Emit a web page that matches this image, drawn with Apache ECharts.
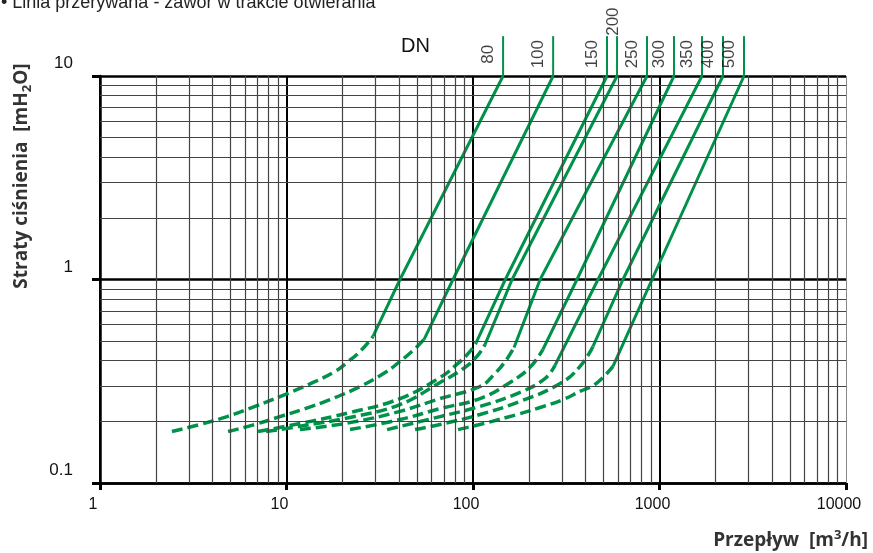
<!DOCTYPE html>
<html>
<head>
<meta charset="utf-8">
<script src="https://cdn.jsdelivr.net/npm/echarts@6/dist/echarts.min.js"></script>
<style>
  html, body { margin: 0; padding: 0; background: #fff; }
  #chart { width: 873px; height: 553px; }
</style>
</head>
<body>
<div id="chart"></div>
<script>
// tick labels
const xTickLabels = ['1', '10', '100', '1000', '10000'];
const yTickLabels = ['0.1', '1', '10'];
const xMinorLines = [2, 3, 4, 5, 6, 7, 8, 9, 20, 30, 40, 50, 60, 70, 80, 90,
  200, 300, 400, 500, 600, 700, 800, 900, 2000, 3000, 4000, 5000, 6000, 7000, 8000, 9000];
const yMinorLines = [0.2, 0.3, 0.4, 0.5, 0.6, 0.7, 0.8, 0.9, 2, 3, 4, 5, 6, 7, 8, 9];

// DN sizes
const dnNames = ['80', '100', '150', '200', '250', '300', '350', '400', '500'];

// dashed part: valve opening  [Q m3/h, loss mH2O]
const dn80Opening = [[2.43, 0.179], [3.44, 0.194], [4.80, 0.212], [6.78, 0.238], [9.23, 0.266], [13.9, 0.312], [18.2, 0.353], [21.1, 0.391], [24.8, 0.443], [29.1, 0.525]];
const dn100Opening = [[4.86, 0.179], [6.78, 0.194], [9.23, 0.212], [12.6, 0.232], [17.1, 0.257], [24.8, 0.298], [33.8, 0.349], [40.6, 0.396], [47.7, 0.448], [54.6, 0.507]];
const dn150Opening = [[7.04, 0.179], [11.8, 0.196], [21.9, 0.222], [40.6, 0.260], [66.6, 0.330], [83.1, 0.387], [96.4, 0.443], [104, 0.490]];
const dn200Opening = [[7.77, 0.179], [11.8, 0.190], [21.9, 0.210], [40.6, 0.243], [66.6, 0.312], [87.3, 0.361], [105, 0.419], [116, 0.479]];
const dn250Opening = [[11.8, 0.183], [21.9, 0.198], [40.6, 0.225], [66.6, 0.260], [109, 0.298], [131, 0.345], [149, 0.396], [166, 0.463]];
const dn300Opening = [[21.9, 0.183], [40.6, 0.205], [66.6, 0.232], [109, 0.260], [158, 0.312], [202, 0.370], [237, 0.453]];
const dn350Opening = [[34.6, 0.183], [66.6, 0.212], [109, 0.238], [179, 0.279], [243, 0.326], [275, 0.378]];
const dn400Opening = [[48.9, 0.183], [66.6, 0.194], [109, 0.217], [179, 0.252], [293, 0.308], [375, 0.374], [440, 0.469]];
const dn500Opening = [[83.1, 0.183], [119, 0.198], [172, 0.217], [229, 0.235], [304, 0.257], [375, 0.282], [440, 0.301], [498, 0.330], [563, 0.374]];

// solid part: valve fully open
const dn80Open = [[29.1, 0.525], [40.6, 1], [145, 10]];
const dn100Open = [[54.6, 0.507], [78.1, 1], [269, 10]];
const dn150Open = [[104, 0.490], [149, 1], [523, 10]];
const dn200Open = [[116, 0.479], [162, 1], [592, 10]];
const dn250Open = [[166, 0.463], [229, 1], [857, 10]];
const dn300Open = [[237, 0.453], [361, 1], [1196, 10]];
const dn350Open = [[275, 0.378], [468, 1], [1690, 10]];
const dn400Open = [[440, 0.469], [637, 1], [2190, 10]];
const dn500Open = [[563, 0.374], [912, 1], [2839, 10]];

const openingParts = [dn80Opening, dn100Opening, dn150Opening, dn200Opening, dn250Opening,
  dn300Opening, dn350Opening, dn400Opening, dn500Opening];
const openParts = [dn80Open, dn100Open, dn150Open, dn200Open, dn250Open,
  dn300Open, dn350Open, dn400Open, dn500Open];

const GREEN = '#00924a';
const LEAD_TOP = 15.7;     // top of the DN leader lines, above the plot
const LABEL_Y = 12.8;
const LABEL_Y_HIGH = 18.5;
const FONT = "'Liberation Sans', Arial, sans-serif";
const NARROW = "'Liberation Sans Narrow', 'Liberation Sans', sans-serif";
const BOLD = "'Open Sans', 'Noto Sans', sans-serif";

const chart = echarts.init(document.getElementById('chart'), null, { renderer: 'canvas' });

const series = [];

// minor grid lines
series.push({
  type: 'line',
  data: [],
  z: 1,
  silent: true,
  markLine: {
    silent: true,
    symbol: ['none', 'none'],
    animation: false,
    label: { show: false },
    emphasis: { disabled: true },
    lineStyle: { type: 'solid', color: '#444', width: 1.2 },
    data: xMinorLines.map(v => ({ xAxis: v }))
      .concat(yMinorLines.map(v => ({ yAxis: v })))
      .concat([{ xAxis: 10000, lineStyle: { color: '#888', width: 1 } }])
  }
});

dnNames.forEach((dn, i) => {
  series.push({
    name: 'DN' + dn + ' opening',
    type: 'line',
    data: openingParts[i],
    smooth: 0.45,
    showSymbol: false,
    silent: true,
    z: 3,
    lineStyle: { color: GREEN, width: 3.5, type: [11, 5] }
  });
  series.push({
    name: 'DN' + dn,
    type: 'line',
    data: openParts[i],
    showSymbol: false,
    silent: true,
    z: 3,
    lineStyle: { color: GREEN, width: 3, type: 'solid' }
  });
  const xTop = openParts[i][openParts[i].length - 1][0];
  series.push({
    type: 'line',
    data: [[xTop, 10], [xTop, LEAD_TOP]],
    clip: false,
    showSymbol: false,
    silent: true,
    z: 3,
    lineStyle: { color: GREEN, width: 2 }
  });
});

// rotated DN labels next to the leaders
series.push({
  type: 'scatter',
  clip: false,
  symbolSize: 0,
  silent: true,
  z: 4,
  data: dnNames.map((dn, i) => {
    const xTop = openParts[i][openParts[i].length - 1][0];
    const high = dn === '200';
    return {
      value: [xTop, high ? LABEL_Y_HIGH : LABEL_Y],
      label: {
        show: true,
        formatter: dn,
        position: 'inside',
        rotate: 90,
        offset: high ? [0, -4] : [0, -15],
        color: '#111',
        fontFamily: NARROW,
        fontSize: 17
      }
    };
  })
});

const option = {
  animation: false,
  backgroundColor: '#fff',
  grid: { left: 100, right: 27, top: 76, bottom: 70 },
  xAxis: {
    type: 'log',
    logBase: 10,
    min: 1,
    max: 10000,
    axisLine: { show: true, lineStyle: { color: '#000', width: 2.5 } },
    axisTick: { show: true, inside: false, length: 7, lineStyle: { color: '#000', width: 3 } },
    axisLabel: {
      color: '#111',
      fontFamily: FONT,
      fontSize: 16,
      margin: 14,
      padding: [0, 14, 0, 0],
      formatter: v => xTickLabels[Math.round(Math.log10(v))]
    },
    splitLine: { show: true, showMaxLine: false, lineStyle: { color: '#000', width: 2 } }
  },
  yAxis: {
    type: 'log',
    logBase: 10,
    min: 0.1,
    max: 10,
    axisLine: { show: true, lineStyle: { color: '#000', width: 2.5 } },
    axisTick: { show: true, inside: false, length: 8, lineStyle: { color: '#000', width: 3 } },
    axisLabel: {
      color: '#111',
      fontFamily: FONT,
      fontSize: 17,
      margin: 27,
      verticalAlign: 'bottom',
      lineHeight: 17,
      padding: [0, 0, 4, 0],
      formatter: v => yTickLabels[Math.round(Math.log10(v)) + 1]
    },
    splitLine: { show: true, lineStyle: { color: '#000', width: 2.5 } }
  },
  graphic: [
    {
      type: 'text',
      left: 1,
      top: -6,
      style: {
        text: '\u2022 Linia przerywana - zawór w trakcie otwierania',
        fill: '#222',
        font: "18px " + NARROW
      }
    },
    {
      type: 'text',
      left: 401,
      top: 36,
      style: { text: 'DN', fill: '#111', font: "20px " + NARROW }
    },
    {
      type: 'text',
      x: 22,
      y: 176,
      rotation: Math.PI / 2,
      style: {
        text: '{b|Straty ciśnienia  [mH}{s|2}{b|O]}',
        align: 'center',
        verticalAlign: 'middle',
        rich: {
          b: { fontFamily: BOLD, fontWeight: 'bold', fontSize: 19, fill: '#333', lineHeight: 24 },
          s: { fontFamily: BOLD, fontWeight: 'bold', fontSize: 13, fill: '#333', lineHeight: 13, verticalAlign: 'bottom' }
        }
      }
    },
    {
      type: 'text',
      x: 868,
      y: 541,
      style: {
        text: '{b|Przepływ  [m}{s|3}{b|/h]}',
        align: 'right',
        verticalAlign: 'middle',
        rich: {
          b: { fontFamily: BOLD, fontWeight: 'bold', fontSize: 19, fill: '#333', lineHeight: 24 },
          s: { fontFamily: BOLD, fontWeight: 'bold', fontSize: 13, fill: '#333', lineHeight: 13, verticalAlign: 'top' }
        }
      }
    }
  ],
  series: series
};

chart.setOption(option);
</script>
</body>
</html>
